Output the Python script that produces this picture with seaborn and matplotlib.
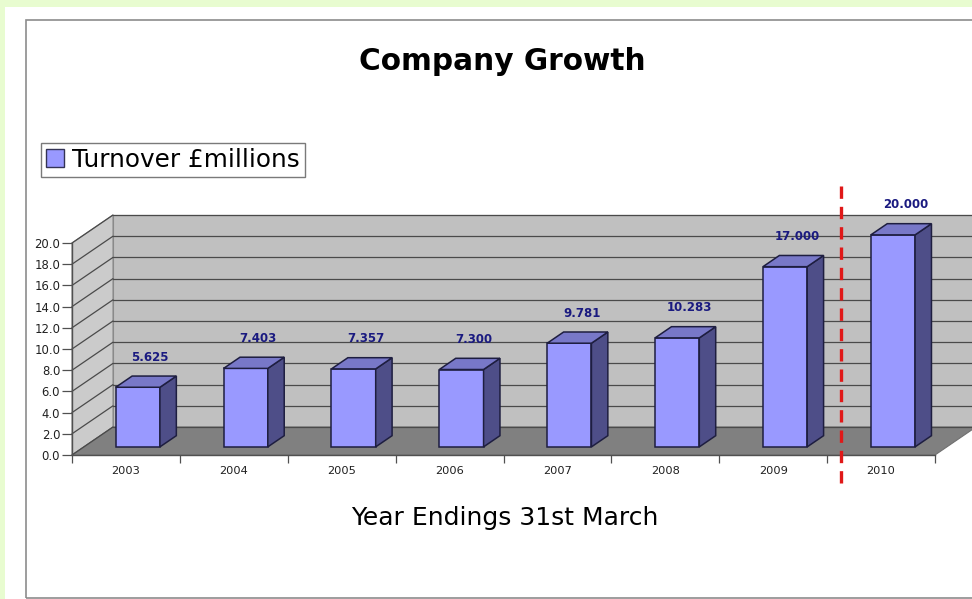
import matplotlib
matplotlib.use("Agg")
import matplotlib.pyplot as plt
import seaborn as sns
import numpy as np
import pandas as pd
from matplotlib.patches import Polygon, Rectangle, Patch

# ---------------- data ----------------
years = ["2003", "2004", "2005", "2006", "2007", "2008", "2009", "2010"]
turnover = [5.625, 7.403, 7.357, 7.300, 9.781, 10.283, 17.000, 20.000]
value_labels = ["5.625", "7.403", "7.357", "7.300", "9.781", "10.283", "17.000", "20.000"]
y_ticks = [0, 2, 4, 6, 8, 10, 12, 14, 16, 18, 20]
chart_title = "Company Growth"
series_name = "Turnover £millions"
x_title = "Year Endings 31st March"

# ---------------- style ----------------
sns.set_style("white")
plt.rcParams["font.family"] = ["DejaVu Sans"]
plt.rcParams["text.color"] = "black"

W, H = 972, 599
BG_GREEN = "#e8fcd0"
WALL_BACK = "#c0c0c0"
WALL_LEFT = "#cbcbcb"
FLOOR = "#808080"
GRID = "#4a4a4a"
BAR_FRONT = "#9999ff"
BAR_TOP = "#7878c8"
BAR_SIDE = "#4e4e88"
BAR_EDGE = "#1e1e40"
LABEL_COL = "#1a1a80"

fig = plt.figure(figsize=(W / 100, H / 100), dpi=100, facecolor=BG_GREEN)
# white panel and its grey frame (behind the axes)
fig.patches.append(Rectangle((5 / W, 0), 1, (H - 7) / H, transform=fig.transFigure,
                             facecolor="white", edgecolor="none", zorder=-2))
fig.patches.append(Rectangle((26 / W, 1.5 / H), 1, (598 - 20) / H, transform=fig.transFigure,
                             facecolor="none", edgecolor="#8c8c8c", lw=1.2, zorder=-1))

ax = fig.add_axes([72 / W, (H - 455) / H, (935 - 72) / W, (455 - 243) / H])
ax.set_facecolor("none")

df = pd.DataFrame({"year": years, "turnover": turnover})
sns.barplot(data=df, x="year", y="turnover", ax=ax, color=BAR_FRONT, saturation=1,
            width=0.41, edgecolor=BAR_EDGE, linewidth=1.1, zorder=3)

n = len(years)
ax.set_xlim(-0.5, n - 0.5)
ax.set_ylim(0, 20)

# depth of the 3-D box in data units
DX = 41 / (863 / n)
DY = 28 / (212 / 20)
F = 0.29     # front of the bars (fraction of depth)
BD = 0.40    # depth of the bars (fraction of depth)

x0, x1 = -0.5, n - 0.5
top = max(y_ticks)

# back wall
ax.add_patch(Polygon([(x0 + DX, DY), (x1 + DX, DY), (x1 + DX, top + DY), (x0 + DX, top + DY)],
                     closed=True, facecolor=WALL_BACK, edgecolor="#8a8a8a", lw=0.8,
                     zorder=0.2, clip_on=False))
# left wall
ax.add_patch(Polygon([(x0, 0), (x0, top), (x0 + DX, top + DY), (x0 + DX, DY)],
                     closed=True, facecolor=WALL_LEFT, edgecolor="#8a8a8a", lw=0.8,
                     zorder=0.2, clip_on=False))
# floor
ax.add_patch(Polygon([(x0, 0), (x1, 0), (x1 + DX, DY), (x0 + DX, DY)],
                     closed=True, facecolor=FLOOR, edgecolor="#707070", lw=0.8,
                     zorder=0.3, clip_on=False))
# gridlines on walls
for k in y_ticks:
    ax.plot([x0, x0 + DX], [k, k + DY], color=GRID, lw=0.9, zorder=0.4, clip_on=False)
    ax.plot([x0 + DX, x1 + DX], [k + DY, k + DY], color=GRID, lw=0.9, zorder=0.4, clip_on=False)

# bars: move the seaborn front faces into the box and add top / side faces
bars = [p for p in ax.patches if isinstance(p, Rectangle)][:n]
for p, v, lab in zip(bars, turnover, value_labels):
    p.set_x(p.get_x() + F * DX)
    p.set_y(F * DY)
    p.set_zorder(3)
    p.set_clip_on(False)
    xl = p.get_x()
    xr = xl + p.get_width()
    yb = F * DY
    yt = yb + v
    ddx, ddy = BD * DX, BD * DY
    ax.add_patch(Polygon([(xr, yb), (xr, yt), (xr + ddx, yt + ddy), (xr + ddx, yb + ddy)],
                         closed=True, facecolor=BAR_SIDE, edgecolor=BAR_EDGE, lw=1.1,
                         zorder=3, clip_on=False))
    ax.add_patch(Polygon([(xl, yt), (xr, yt), (xr + ddx, yt + ddy), (xl + ddx, yt + ddy)],
                         closed=True, facecolor=BAR_TOP, edgecolor=BAR_EDGE, lw=1.1,
                         zorder=3, clip_on=False))
    cx = (xl + xr) / 2 + 0.75 * ddx
    ax.text(cx, v + 3.6, lab, ha="center", va="center", fontsize=8.5,
            fontweight="bold", color=LABEL_COL, zorder=5, clip_on=False)

# red dashed divider between 2009 and 2010
SPLIT = 6.5 + 0.34 * DX
ax.plot([SPLIT, SPLIT], [-2.6, 25.9], color="#e01818", lw=2.4,
        ls=(0, (3.7, 2.4)), zorder=6, clip_on=False)

# axes: spines, ticks
for s in ["top", "right"]:
    ax.spines[s].set_visible(False)
for s in ["left", "bottom"]:
    ax.spines[s].set_color("#505050")
    ax.spines[s].set_linewidth(1.0)
    ax.spines[s].set_zorder(4)

ax.set_yticks(y_ticks)
ax.set_yticklabels([f"{t:.1f}" for t in y_ticks])
ax.set_xticks(np.arange(-0.5, n, 1.0))
ax.set_xticklabels([])
ax.set_xticks(np.arange(n), minor=True)
ax.set_xticklabels(years, minor=True)
ax.tick_params(axis="y", which="major", length=7, width=0.9, color="#505050",
               labelsize=8.4, pad=1.5, left=True, labelcolor="#202020")
ax.tick_params(axis="x", which="major", length=6, width=0.9, color="#505050",
               bottom=True)
ax.tick_params(axis="x", which="minor", length=0, labelsize=8.2, pad=8,
               labelcolor="#202020")
ax.set_xlabel("")
ax.set_ylabel("")

# title, axis title, legend
fig.text(502 / W, 1 - 62 / H, chart_title, ha="center", va="center",
         fontsize=21.3, fontweight="bold", color="black")
fig.text(505 / W, 1 - 518 / H, x_title, ha="center", va="center",
         fontsize=18, color="black")
handle = Patch(facecolor=BAR_FRONT, edgecolor="#333355", lw=1.0, label=series_name)
leg = fig.legend(handles=[handle], loc="upper left", bbox_to_anchor=(41 / W, 1 - 143 / H),
                 bbox_transform=fig.transFigure, borderaxespad=0, frameon=True, fancybox=False,
                 edgecolor="#7a7a7a", framealpha=1, fontsize=17.8, handlelength=0.75,
                 handleheight=0.75, handletextpad=0.3, borderpad=0.2)
for t in leg.get_texts():
    t.set_color("black")

fig.savefig("out.png", dpi=100, facecolor=BG_GREEN)
